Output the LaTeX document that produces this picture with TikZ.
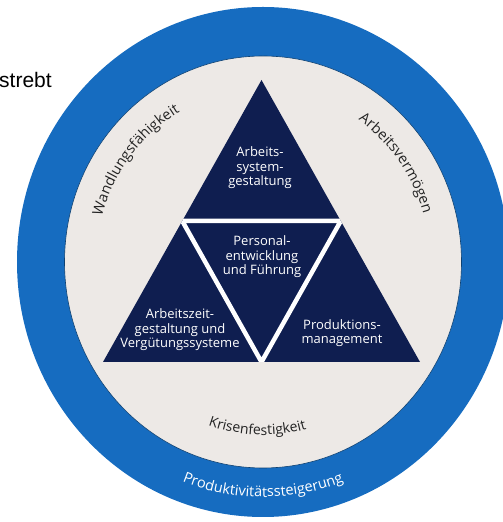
\documentclass[tikz,border=0pt]{standalone}
\usepackage{fontspec}
\setmainfont{Open Sans}
\newfontfamily\arialfont{Liberation Sans}
\usetikzlibrary{calc,decorations.text}
\definecolor{ringblue}{RGB}{22,108,192}
\definecolor{navy}{RGB}{15,30,80}
\definecolor{pale}{RGB}{237,233,230}
\definecolor{ink}{RGB}{35,35,35}

\begin{document}
\begin{tikzpicture}[x=1pt, y=1pt,
  field/.style={align=center, text=white, inner sep=0pt,
    font=\fontsize{13}{14.5}\selectfont},
  ringtext/.style={decorate, decoration={text along path, text align=center, text={#1}}}]
  \useasboundingbox (0,0) rectangle (503,522);
  \clip (0,0) rectangle (503,522);
  \def\cx{263}
  \def\cy{260}
  \coordinate (C) at (\cx,\cy);

  % ring and inner disc
  \fill[ringblue] (C) ellipse [x radius=246, y radius=255];
  \filldraw[fill=pale, draw=ringblue!60!black, line width=0.6pt]
    (C) ellipse [x radius=198.5, y radius=206];

  % big triangle, split in four
  \coordinate (A) at (103,160);
  \coordinate (B) at (420,160);
  \coordinate (T) at (261.5,442);
  \coordinate (ML) at ($(A)!0.5!(T)$);
  \coordinate (MR) at ($(B)!0.5!(T)$);
  \coordinate (MB) at ($(A)!0.5!(B)$);
  \fill[navy] (A) -- (B) -- (T) -- cycle;
  \begin{scope}
    \clip (A) -- (B) -- (T) -- cycle;
    \draw[white, line width=4.5pt, line join=miter] (ML) -- (MR) -- (MB) -- cycle;
  \end{scope}

  \node[field] (system) at (260,354) {Arbeits-\\system-\\gestaltung};
  \node[field] (personal) at (262,265) {Personal-\\entwicklung\\und Führung};
  \node[field] (zeit) at (180,192) {Arbeitszeit-\\gestaltung und\\Vergütungssysteme};
  \node[field] (produktion) at (342,189) {Produktions-\\management};

  % texts on the ring
  \path[ringtext={|\fontsize{14.5}{16}\selectfont\color{ink}|Wandlungsfähigkeit}]
    ($(C)+(182:167 and 173)$) arc [start angle=182, end angle=102, x radius=167, y radius=173];
  \path[ringtext={|\fontsize{14.5}{16}\selectfont\color{ink}|Arbeitsvermögen}]
    ($(C)+(76:167 and 173)$) arc [start angle=76, end angle=-4, x radius=167, y radius=173];
  \path[ringtext={|\fontsize{14}{16}\selectfont\color{ink}|Krisenfestigkeit}]
    ($(C)+(228:167 and 173)$) arc [start angle=228, end angle=308, x radius=167, y radius=173];
  \path[ringtext={|\fontsize{14.5}{16}\selectfont\color{white}|Produktivitätssteigerung}]
    ($(C)+(220:226 and 235)$) arc [start angle=220, end angle=320, x radius=226, y radius=235];

  \node[anchor=base west, inner sep=0pt, font=\arialfont\fontsize{21}{24}\selectfont]
    (strebt) at (-1,434) {strebt};
\end{tikzpicture}
\end{document}
